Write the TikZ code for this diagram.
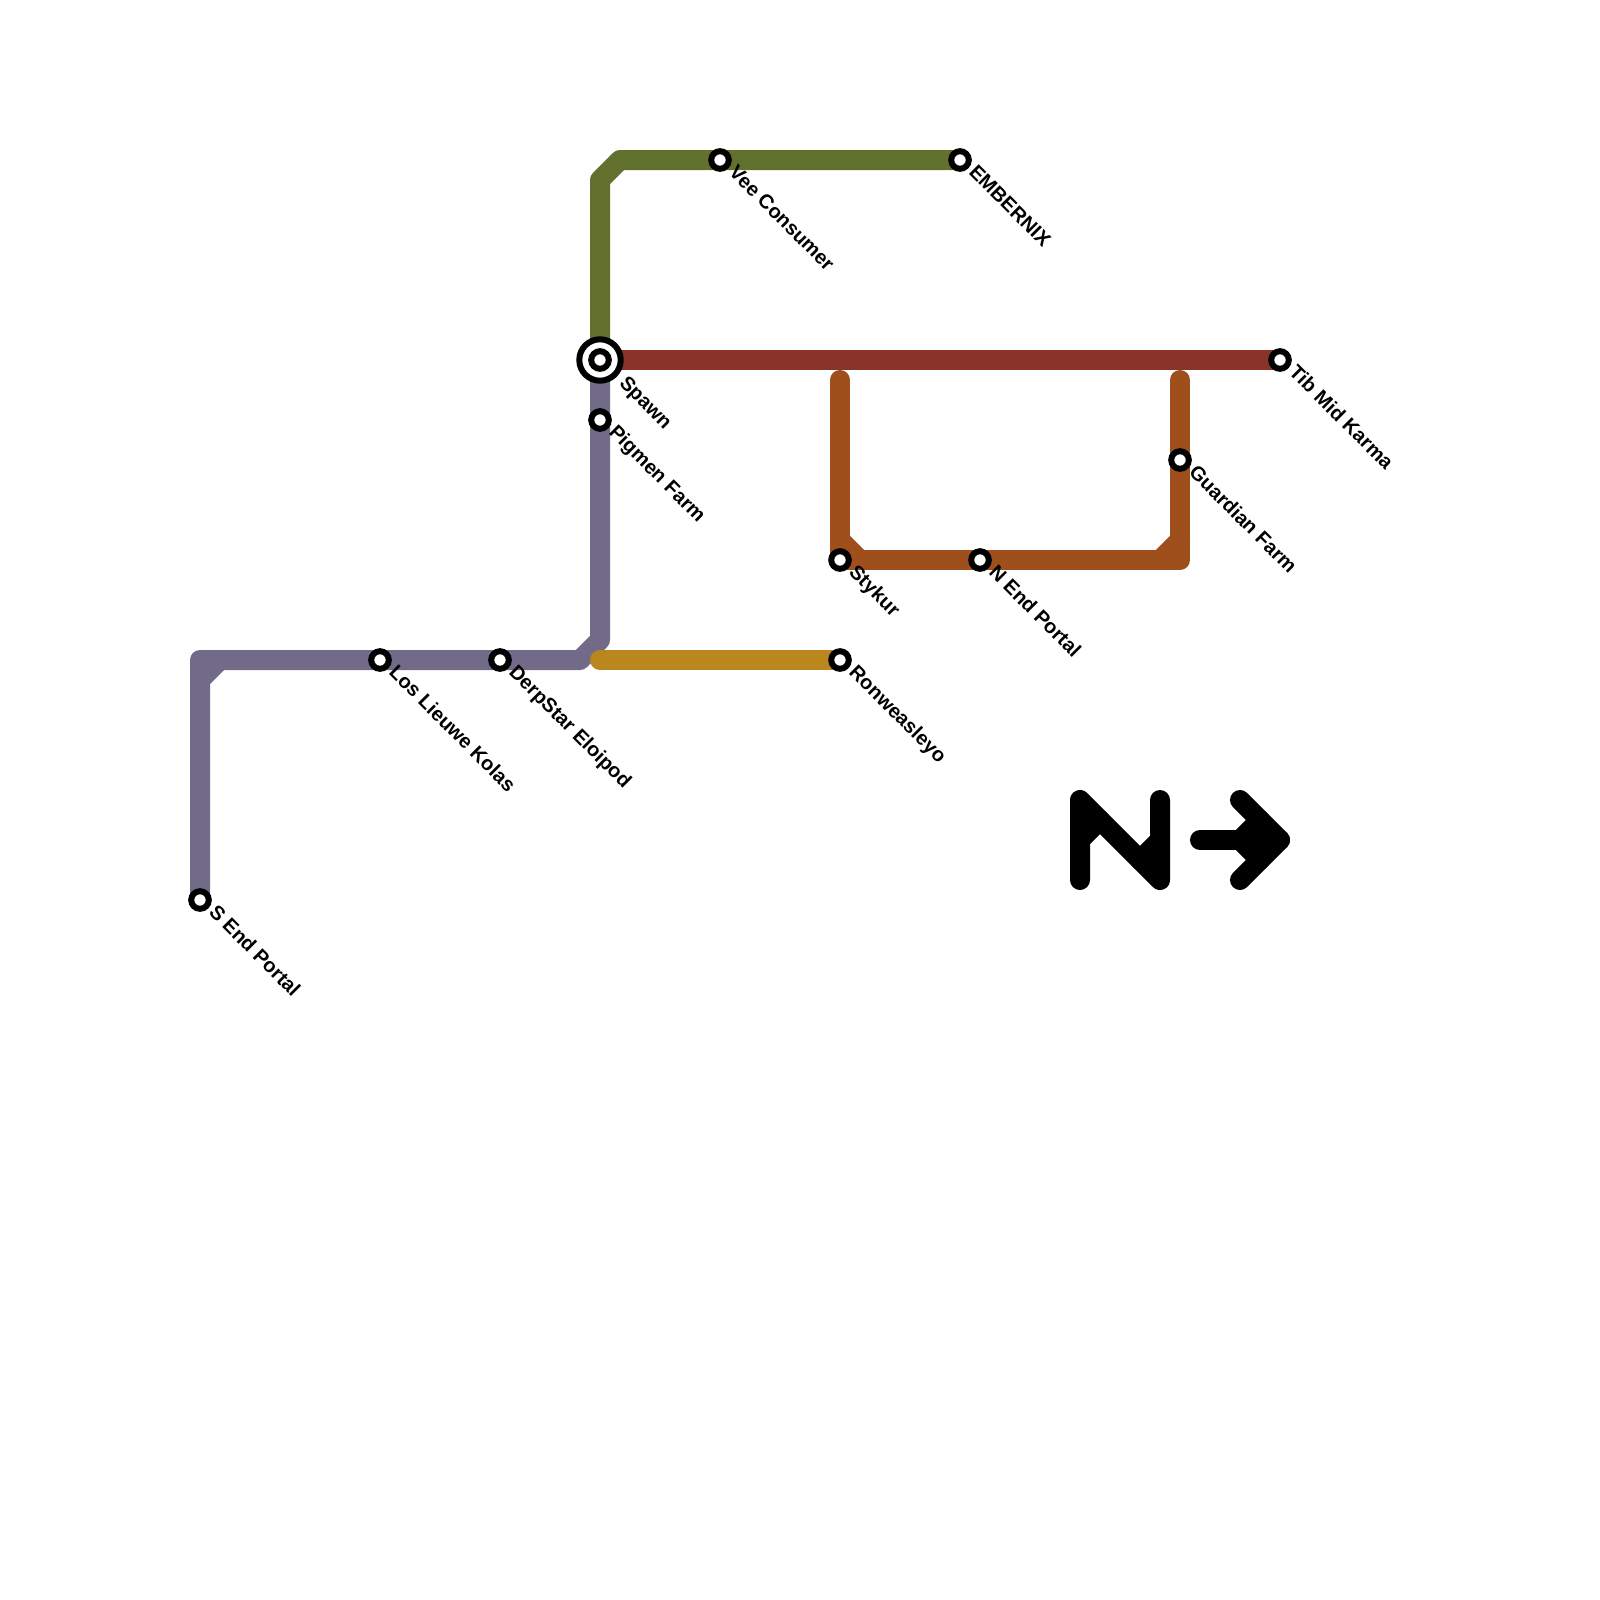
\documentclass[tikz,border=0pt]{standalone}
\usepackage{fontspec}
\setmainfont{Liberation Sans}
\usetikzlibrary{backgrounds}
\definecolor{lgreen}{HTML}{61702D}
\definecolor{lred}{HTML}{883428}
\definecolor{lbrown}{HTML}{9E4F1C}
\definecolor{lpurple}{HTML}{716B89}
\definecolor{lgold}{HTML}{B9871E}
\tikzset{
  metro/.style={line width=10pt,line cap=round,line join=round},
  stn/.style={circle,draw=black,fill=white,line width=3pt,minimum size=8.8pt,inner sep=0pt,outer sep=0pt},
  hub/.style={circle,draw=black,fill=white,line width=3pt,minimum size=20.7pt,inner sep=0pt,outer sep=0pt},
  lbl/.style={rotate=-45,anchor=base west,inner sep=0pt,outer sep=0pt,font=\fontsize{10pt}{12pt}\selectfont\bfseries},
}
\begin{document}
\begin{tikzpicture}[x=0.5pt,y=-0.5pt]
\useasboundingbox (0,0) rectangle (1600,1600);
% stations
\node[hub] (hubring) at (600,360) {};
\node[stn] (spawn) at (600,360) {};
\node[stn] (pigmen) at (600,420) {};
\node[stn] (vee) at (720,160) {};
\node[stn] (ember) at (960,160) {};
\node[stn] (tib) at (1280,360) {};
\node[stn] (guardian) at (1180,460) {};
\node[stn] (stykur) at (840,560) {};
\node[stn] (nend) at (980,560) {};
\node[stn] (ron) at (840,660) {};
\node[stn] (send) at (200,900) {};
\node[stn] (los) at (380,660) {};
\node[stn] (derp) at (500,660) {};
% way points
\coordinate (g1) at (600,180);
\coordinate (g2) at (620,160);
\coordinate (p1) at (600,640);
\coordinate (p2) at (580,660);
\coordinate (p3) at (200,660);
\coordinate (p4) at (200,680);
\coordinate (p5) at (220,660);
\coordinate (gd) at (600,660);
\coordinate (b1) at (840,380);
\coordinate (b2) at (840,540);
\coordinate (b3) at (860,560);
\coordinate (b4) at (1160,560);
\coordinate (b5) at (1180,560);
\coordinate (b6) at (1180,540);
\coordinate (b7) at (1180,380);
\begin{scope}[on background layer]
\fill[white] (0,0) rectangle (1600,1600);
\draw[metro,lgreen] (spawn.center) -- (g1) -- (g2) -- (ember.center);
\draw[metro,lred] (spawn.center) -- (tib.center);
\draw[metro,lbrown] (b1) -- (stykur.center) -- (b5) -- (b7);
\draw[metro,lbrown] (b2) -- (b3);
\draw[metro,lbrown] (b4) -- (b6);
\draw[metro,lpurple] (spawn.center) -- (p1) -- (p2) -- (p3) -- (send.center);
\draw[metro,lpurple] (p4) -- (p5);
\draw[metro,lgold] (gd) -- (ron.center);
\end{scope}
% labels
\node[lbl] (lspawn) at ([shift={(18.5,24.5)}]spawn.center) {Spawn};
\node[lbl] (lpigmen) at ([shift={(8,13.5)}]pigmen.center) {Pigmen Farm};
\node[lbl] (lvee) at ([shift={(8,13.5)}]vee.center) {Vee Consumer};
\node[lbl] (lember) at ([shift={(8,13.5)}]ember.center) {EMBERNIX};
\node[lbl] (ltib) at ([shift={(8,13.5)}]tib.center) {Tib Mid Karma};
\node[lbl] (lguardian) at ([shift={(8,13.5)}]guardian.center) {Guardian Farm};
\node[lbl] (lstykur) at ([shift={(8,13.5)}]stykur.center) {Stykur};
\node[lbl] (lnend) at ([shift={(8,13.5)}]nend.center) {N End Portal};
\node[lbl] (lron) at ([shift={(8,13.5)}]ron.center) {Ronweasleyo};
\node[lbl] (lsend) at ([shift={(8,13.5)}]send.center) {S End Portal};
\node[lbl] (llos) at ([shift={(8,13.5)}]los.center) {Los Lieuwe Kolas};
\node[lbl] (lderp) at ([shift={(8,13.5)}]derp.center) {DerpStar Eloipod};
% north arrow
\coordinate (n1) at (1080,880);
\coordinate (n2) at (1080,800);
\coordinate (n3) at (1160,880);
\coordinate (n4) at (1160,800);
\coordinate (n5) at (1080,840);
\coordinate (n6) at (1100,820);
\coordinate (n7) at (1160,840);
\coordinate (n8) at (1140,860);
\coordinate (a1) at (1200,840);
\coordinate (a2) at (1280,840);
\coordinate (a3) at (1240,800);
\coordinate (a4) at (1240,880);
\coordinate (a5) at (1240,840);
\coordinate (a6) at (1260,820);
\coordinate (a7) at (1260,860);
\draw[metro,black] (n1) -- (n2) -- (n3) -- (n4);
\draw[metro,black] (n5) -- (n6);
\draw[metro,black] (n7) -- (n8);
\draw[metro,black] (a1) -- (a2);
\draw[metro,black] (a3) -- (a2) -- (a4);
\draw[metro,black] (a5) -- (a6);
\draw[metro,black] (a5) -- (a7);
\end{tikzpicture}
\end{document}
